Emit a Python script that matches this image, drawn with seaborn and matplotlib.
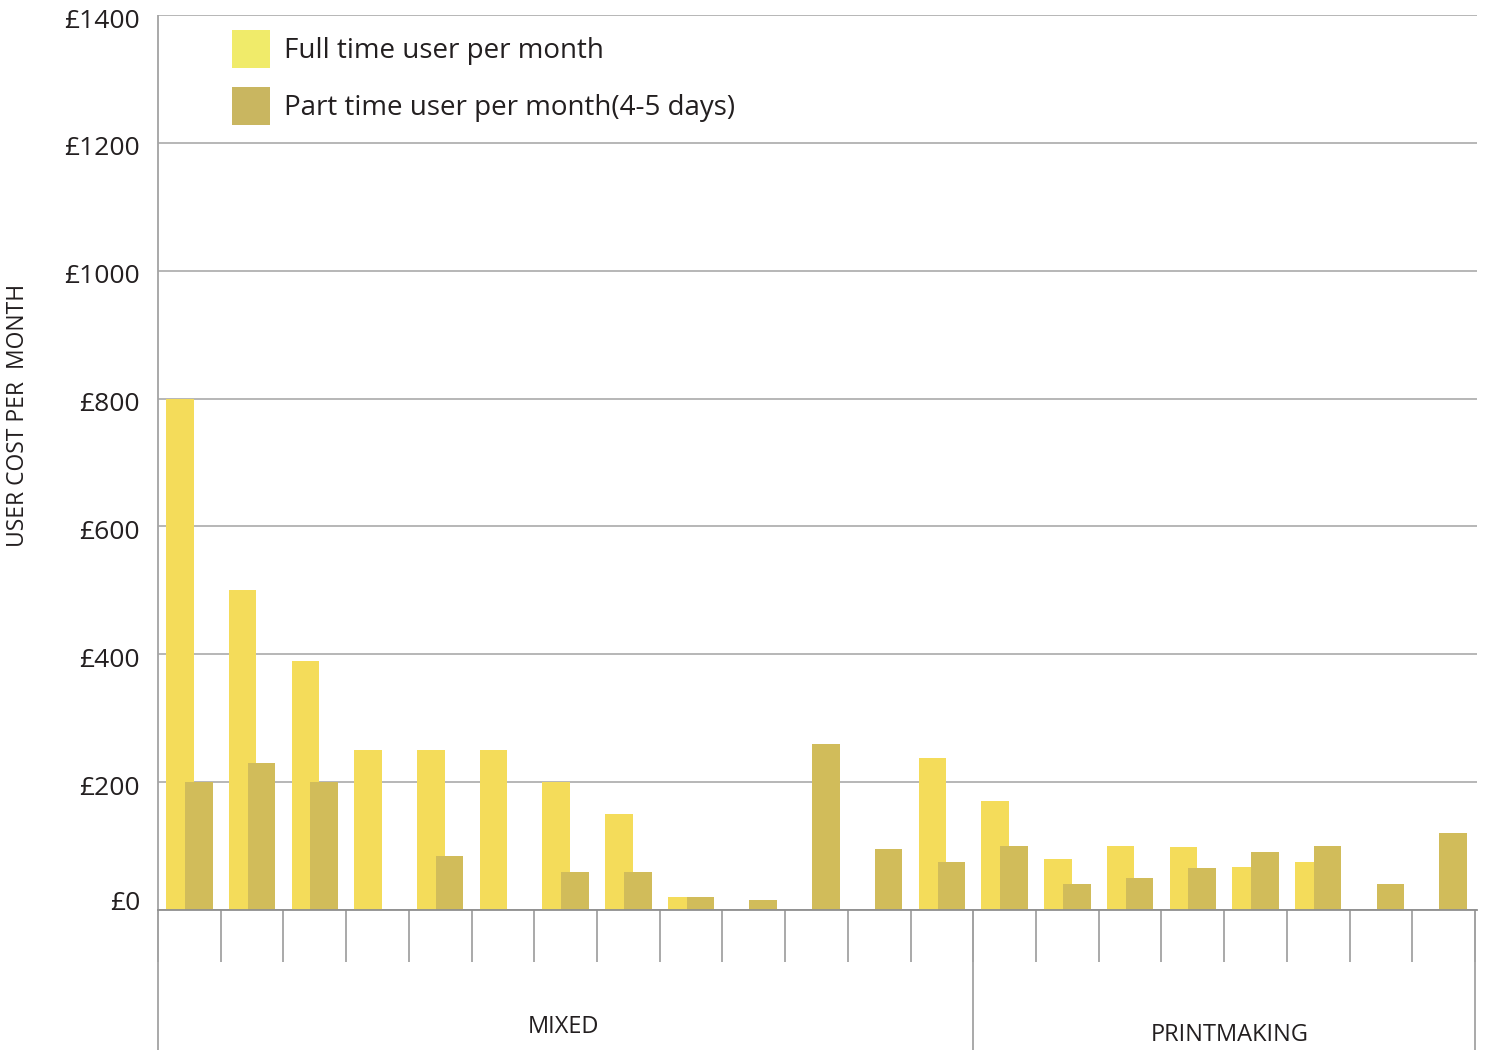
import matplotlib
matplotlib.use("Agg")
import matplotlib.pyplot as plt
import matplotlib.transforms as mtransforms
from matplotlib.patches import Patch
import pandas as pd
import seaborn as sns

# bar values (0 = no bar)
full_time = [800, 500, 390, 250, 250, 250, 200, 150, 20, 0, 0, 0, 238,
             170, 80, 100, 98, 68, 75, 0, 0]
part_time = [200, 230, 200, 0, 85, 0, 60, 60, 20, 15, 260, 95, 75,
             100, 40, 50, 65, 90, 100, 40, 120]
groups = ["MIXED"] * 13 + ["PRINTMAKING"] * 8
series_names = ["Full time user per month", "Part time user per month(4-5 days)"]
y_ticks = [0, 200, 400, 600, 800, 1000, 1200, 1400]

bar_colors = ["#F4DC5A", "#D1BC5A"]
legend_colors = ["#F0EB6A", "#C9B660"]
text_color = "#231F20"
line_color = "#A3A3A3"

n = len(full_time)
df = pd.DataFrame({
    "slot": list(range(n)) * 2,
    "cost": full_time + part_time,
    "series": [series_names[0]] * n + [series_names[1]] * n,
})

sns.set_theme(style="white")
plt.rcParams["font.family"] = ["Open Sans", "DejaVu Sans"]

fig = plt.figure(figsize=(14.85, 10.5), dpi=100)
ax = fig.add_axes([158 / 1485, 140 / 1050, 1319 / 1485, 895 / 1050])

sns.barplot(data=df, x="slot", y="cost", hue="series", hue_order=series_names,
            palette=bar_colors, saturation=1, width=0.6, gap=-0.47,
            linewidth=0, legend=False, ax=ax)

ax.set_ylim(0, 1400)
ax.set_xlim(-0.5, n - 0.5 + 2 / 62.7)
ax.set_yticks(y_ticks)
ax.set_yticklabels([f"£{v}" for v in y_ticks], fontsize=19, color=text_color)
ax.set_xticks([])
ax.tick_params(axis="y", length=0, pad=13)
ax.set_xlabel("")
ax.set_ylabel("")

# labels sit a touch below their lines, except £0 which sits above
for i, lab in enumerate(ax.get_yticklabels()):
    dy = 0.10 if i == 0 else -0.03
    lab.set_transform(lab.get_transform() +
                      mtransforms.ScaledTranslation(0, dy, fig.dpi_scale_trans))

ax.yaxis.grid(True, color=line_color, linewidth=1.1)
ax.set_axisbelow(True)
for side in ["top", "right", "left"]:
    ax.spines[side].set_visible(False)
ax.spines["bottom"].set_color("#8F8F8F")
ax.spines["bottom"].set_linewidth(1.3)

# category separators under the axis
trans = ax.get_xaxis_transform()
bounds = [i - 0.5 for i in range(n + 1)]
ax.vlines(bounds, -0.058, 0, transform=trans, colors=line_color,
          linewidth=1.3, clip_on=False)

# group separators and labels
group_names = list(dict.fromkeys(groups))
edges = [-0.5]
for g in group_names:
    edges.append(edges[-1] + groups.count(g))
ax.vlines(edges, -0.1564, 0, transform=trans, colors=line_color,
          linewidth=1.3, clip_on=False)
ax.vlines([-0.5], 0, 1, transform=trans, colors=line_color,
          linewidth=1.3, clip_on=False)
label_pos = [(-0.03, -0.1307), (0.09, -0.1397)]
for i, g in enumerate(group_names):
    dx, y = label_pos[i]
    ax.text((edges[i] + edges[i + 1]) / 2 + dx, y, g, transform=trans,
            ha="center", va="center", fontsize=17, color=text_color)

fig.text(18 / 1485, 1 - 415 / 1050, "USER COST PER  MONTH", rotation=90,
         ha="center", va="center", fontsize=16.5, color=text_color)

handles = [Patch(facecolor=c, edgecolor="none") for c in legend_colors]
ax.legend(handles, series_names, loc="upper left",
          bbox_to_anchor=(74 / 1319, 1 - 15 / 895), frameon=False,
          fontsize=20, handlelength=1.37, handleheight=1.73,
          handletextpad=0.5, labelspacing=0.68, borderpad=0,
          borderaxespad=0, labelcolor=text_color)

fig.savefig("out.png", dpi=100)
